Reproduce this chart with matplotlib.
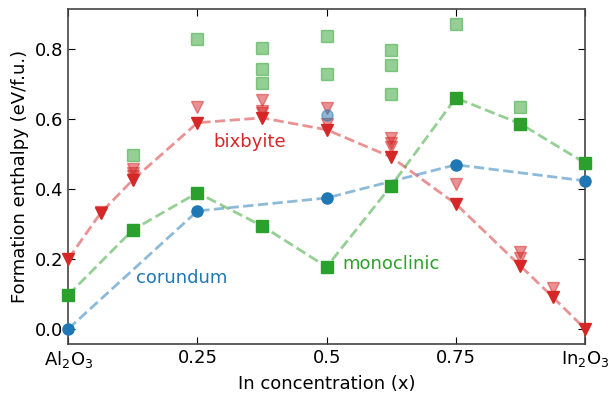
import matplotlib.pyplot as plt
import numpy as np

# 主系列 (最安定構造)
corundum_x = [0.0, 0.25, 0.5, 0.75, 1.0]
corundum_y = [0.0, 0.337, 0.374, 0.469, 0.423]

monoclinic_x = [0.0, 0.125, 0.25, 0.375, 0.5, 0.625, 0.75, 0.875, 1.0]
monoclinic_y = [0.097, 0.283, 0.389, 0.294, 0.177, 0.409, 0.660, 0.586, 0.474]

bixbyite_x = [0.0, 0.0625, 0.125, 0.25, 0.375, 0.5, 0.625, 0.75, 0.875, 0.9375, 1.0]
bixbyite_y = [0.200, 0.331, 0.426, 0.589, 0.603, 0.569, 0.491, 0.357, 0.180, 0.091, 0.0]

# その他の配置 (薄い点)
corundum_other_x = [0.5]
corundum_other_y = [0.611]

monoclinic_other_x = [0.125, 0.25, 0.375, 0.375, 0.375, 0.5, 0.5,
                      0.625, 0.625, 0.625, 0.75, 0.875]
monoclinic_other_y = [0.497, 0.829, 0.803, 0.743, 0.703, 0.837, 0.729,
                      0.797, 0.754, 0.671, 0.871, 0.634]

bixbyite_other_x = [0.0625, 0.125, 0.125, 0.125, 0.25, 0.375, 0.375, 0.375,
                    0.5, 0.5, 0.625, 0.625, 0.625, 0.75, 0.875, 0.875, 0.9375]
bixbyite_other_y = [0.335, 0.457, 0.446, 0.437, 0.634, 0.654, 0.623, 0.617,
                    0.631, 0.586, 0.546, 0.531, 0.520, 0.414, 0.220, 0.203, 0.117]

tick_positions = [0.0, 0.25, 0.5, 0.75, 1.0]
tick_labels = [r"Al$_2$O$_3$", "0.25", "0.5", "0.75", r"In$_2$O$_3$"]

plt.rcParams["font.size"] = 13

fig, ax = plt.subplots(figsize=(6.1, 3.93), dpi=100)

series = [
    (bixbyite_x, bixbyite_y, bixbyite_other_x, bixbyite_other_y, "tab:red", "v"),
    (monoclinic_x, monoclinic_y, monoclinic_other_x, monoclinic_other_y, "tab:green", "s"),
    (corundum_x, corundum_y, corundum_other_x, corundum_other_y, "tab:blue", "o"),
]

for x, y, ox, oy, color, marker in series:
    ax.plot(ox, oy, linestyle="none", marker=marker, markersize=8,
            color=color, alpha=0.5, zorder=2)
    ax.plot(x, y, linestyle="--", linewidth=2, color=color, alpha=0.5,
            zorder=2)
    ax.plot(x, y, linestyle="none", marker=marker, markersize=8,
            color=color, zorder=3, clip_on=False)

ax.text(0.28, 0.534, "bixbyite", color="tab:red", va="center")
ax.text(0.131, 0.146, "corundum", color="tab:blue", va="center")
ax.text(0.53, 0.186, "monoclinic", color="tab:green", va="center")

ax.set_xlim(0.0, 1.0)
ax.set_ylim(-0.043, 0.914)
ax.set_xticks(tick_positions)
ax.set_xticklabels(tick_labels)
ax.set_yticks(np.arange(0.0, 0.81, 0.2))
ax.tick_params(direction="in", top=True, right=True, length=5)
ax.set_xlabel("In concentration (x)")
ax.set_ylabel("Formation enthalpy (eV/f.u.)")

for spine in ax.spines.values():
    spine.set_linewidth(1.2)
    spine.set_color("#444444")

fig.subplots_adjust(left=0.112, right=0.959, top=0.977, bottom=0.125)
fig.savefig("out.png", dpi=100)
plt.close(fig)
